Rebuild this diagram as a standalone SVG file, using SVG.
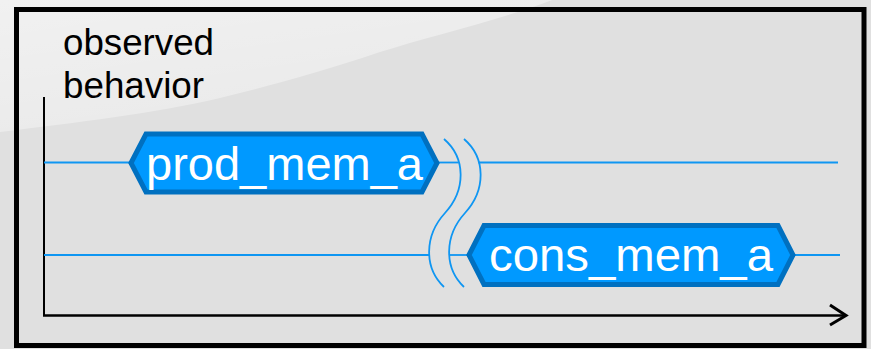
<svg xmlns="http://www.w3.org/2000/svg" width="871" height="349" viewBox="0 0 871 349">
  <defs>
    <linearGradient id="sheenGrad" x1="0" y1="0" x2="0.6" y2="1">
      <stop offset="0" stop-color="#ffffff" stop-opacity="0.55"/>
      <stop offset="1" stop-color="#ffffff" stop-opacity="0.3"/>
    </linearGradient>
  </defs>
  <style>
    .label { font-family: "Liberation Sans", Arial, sans-serif; fill: #000000; font-size: 36px; }
    .hex { fill: #0099ff; stroke: #0070c0; stroke-width: 5; stroke-linejoin: miter; }
    .hex-text { font-family: "Liberation Sans", Arial, sans-serif; fill: #ffffff; font-size: 47px; }
    .lane { stroke: #0f96f2; stroke-width: 1.8; fill: none; }
    .brk { stroke: #0f96f2; stroke-width: 1.8; fill: none; }
    .axis { stroke: #000000; fill: none; }
  </style>

  <!-- backdrop with a soft highlight in the upper left -->
  <rect x="0" y="0" width="871" height="349" fill="#e0e0e0"/>
  <path d="M0,0 L552,0 C500,20 430,36 380,52 C320,72 270,86 220,98 C150,114 80,122 0,132 Z" fill="url(#sheenGrad)"/>

  <!-- outer frame -->
  <rect id="frame" x="16.5" y="9.5" width="847.5" height="336" fill="none" stroke="#000000" stroke-width="5"/>

  <!-- axis caption -->
  <g id="axis-label">
    <text class="label" x="63" y="55" textLength="151" lengthAdjust="spacingAndGlyphs">observed</text>
    <text class="label" x="63" y="98" textLength="141" lengthAdjust="spacingAndGlyphs">behavior</text>
  </g>

  <!-- axes -->
  <g id="axes">
    <line class="axis" x1="44" y1="97" x2="44" y2="316" stroke-width="2"/>
    <line class="axis" x1="43" y1="315.5" x2="846" y2="315.5" stroke-width="2.5"/>
    <polyline class="axis" points="830,305 846,315.5 830,325" stroke-width="3"/>
  </g>

  <!-- lane lines and break marks -->
  <g id="connectors">
    <line class="lane" x1="44" y1="162.5" x2="131" y2="162.5"/>
    <line class="lane" x1="437" y1="162.5" x2="458.5" y2="162.5"/>
    <line class="lane" x1="478.5" y1="162.5" x2="838" y2="162.5"/>
    <line class="lane" x1="44" y1="255" x2="429" y2="255"/>
    <line class="lane" x1="449" y1="255" x2="469" y2="255"/>
    <line class="lane" x1="793" y1="255" x2="840" y2="255"/>
    <path class="brk" d="M444,139 C466,158 466,190 445,213 C424,236 424,268 444,287"/>
    <path class="brk" d="M464,139 C486,158 486,190 465,213 C444,236 444,268 464,287"/>
  </g>

  <!-- producer node -->
  <g id="prod_mem_a">
    <path class="hex" d="M131,163 L146,134 L422,134 L437,163 L422,192 L146,192 Z"/>
    <text class="hex-text" x="146" y="180" textLength="277" lengthAdjust="spacingAndGlyphs">prod_mem_a</text>
  </g>

  <!-- consumer node -->
  <g id="cons_mem_a">
    <path class="hex" d="M469,255 L484,225.5 L778,225.5 L793,255 L778,284.5 L484,284.5 Z"/>
    <text class="hex-text" x="489" y="271" textLength="284" lengthAdjust="spacingAndGlyphs">cons_mem_a</text>
  </g>
</svg>
